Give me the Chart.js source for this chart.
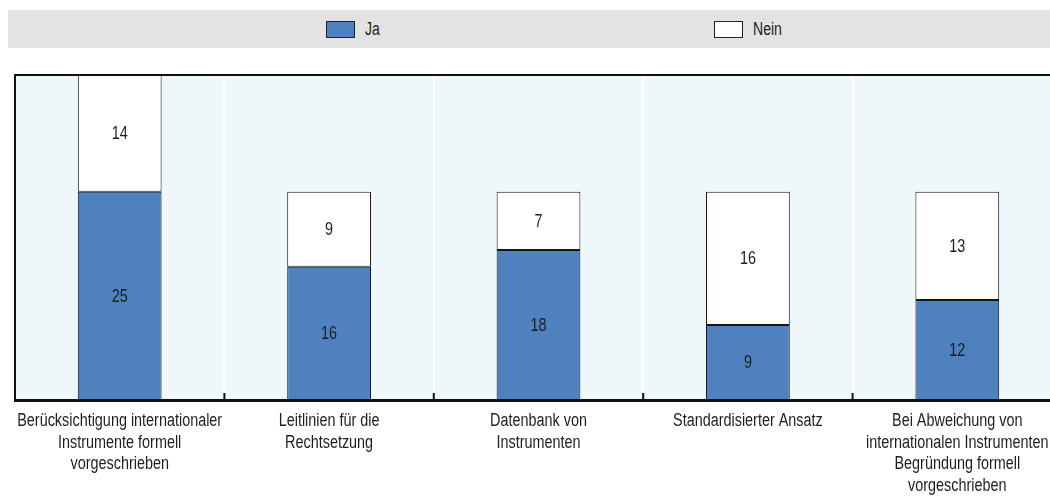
<!DOCTYPE html>
<html>
<head>
<meta charset="utf-8">
<script src="https://cdn.jsdelivr.net/npm/chart.js@4/dist/chart.umd.min.js"></script>
<style>
  html, body { margin: 0; padding: 0; background: #fff; overflow: hidden; }
  body { width: 1050px; height: 498px; position: relative; font-family: "Liberation Sans", Arial, sans-serif; }
  #legend { position: absolute; left: 8px; top: 10px; width: 1060px; height: 38px; background: #e3e3e3; }
  .item { position: absolute; top: 0; height: 38px; display: flex; align-items: center; font-size: 18px; color: #222; }
  .item span.t { display: inline-block; transform: scaleX(0.78); transform-origin: left center; }
  .swatch { width: 27px; height: 15px; border: 1px solid #222; margin-right: 10px; }
  #wrap { position: absolute; left: 0; top: 0; width: 1064px; height: 498px; }
</style>
</head>
<body>
<div id="legend">
  <div class="item" style="left:318px"><span class="swatch" style="background:#4e81bd"></span><span class="t">Ja</span></div>
  <div class="item" style="left:706px"><span class="swatch" style="background:#fff"></span><span class="t">Nein</span></div>
</div>
<div id="wrap"><canvas id="chart"></canvas></div>
<script>
// Categories (multi-line axis labels) and answer counts
const categories = [
  ["Berücksichtigung internationaler", "Instrumente formell", "vorgeschrieben"],
  ["Leitlinien für die", "Rechtsetzung"],
  ["Datenbank von", "Instrumenten"],
  ["Standardisierter Ansatz"],
  ["Bei Abweichung von", "internationalen Instrumenten", "Begründung formell", "vorgeschrieben"],
];
const jaValues = [25, 16, 18, 9, 12];
const neinValues = [14, 9, 7, 16, 13];

const FONT = '18px "Liberation Sans", Arial, sans-serif';
const SQUEEZE = 0.8; // narrow the text the way a condensed face would

function narrowText(ctx, text, x, y) {
  ctx.save();
  ctx.translate(x, y);
  ctx.scale(SQUEEZE, 1);
  ctx.fillText(text, 0, 0);
  ctx.restore();
}

// plot background, frame lines, tick marks and the category labels
const framePlugin = {
  id: "frame",
  beforeDraw(chart) {
    const { ctx, chartArea: a } = chart;
    ctx.save();
    ctx.fillStyle = "#eef7f9";
    ctx.fillRect(a.left, a.top, a.right - a.left, a.bottom - a.top);
    ctx.restore();
  },
  afterDatasetsDraw(chart) {
    const { ctx, chartArea: a, scales } = chart;
    const x = scales.x;
    ctx.save();
    ctx.strokeStyle = "#111";
    ctx.lineWidth = 2;
    ctx.beginPath();
    ctx.moveTo(a.left, a.top);
    ctx.lineTo(a.right, a.top);
    ctx.moveTo(a.left, a.top - 1);
    ctx.lineTo(a.left, a.bottom);
    for (let i = 1; i < categories.length; i++) {
      const bx = (x.getPixelForValue(i - 1) + x.getPixelForValue(i)) / 2;
      ctx.moveTo(bx, a.bottom);
      ctx.lineTo(bx, a.bottom - 7);
    }
    ctx.stroke();
    // heavier baseline
    ctx.lineWidth = 3;
    ctx.beginPath();
    ctx.moveTo(a.left - 1, a.bottom + 0.5);
    ctx.lineTo(a.right, a.bottom + 0.5);
    ctx.stroke();

    ctx.font = FONT;
    ctx.fillStyle = "#1e1e1e";
    ctx.textAlign = "center";
    ctx.textBaseline = "alphabetic";
    categories.forEach((lines, i) => {
      const cx = x.getPixelForValue(i);
      lines.forEach((line, k) => narrowText(ctx, line, cx, a.bottom + 26 + k * 21.5));
    });
    ctx.restore();
  },
};

// value written in the middle of each segment
const valueLabels = {
  id: "valueLabels",
  afterDatasetsDraw(chart) {
    const { ctx } = chart;
    ctx.save();
    ctx.font = FONT;
    ctx.fillStyle = "#1e1e1e";
    ctx.textAlign = "center";
    ctx.textBaseline = "middle";
    chart.data.datasets.forEach((ds, di) => {
      chart.getDatasetMeta(di).data.forEach((bar, i) => {
        const mid = (bar.y + bar.base) / 2;
        narrowText(ctx, String(ds.data[i]), bar.x, mid + 1);
      });
    });
    ctx.restore();
  },
};

new Chart(document.getElementById("chart"), {
  type: "bar",
  data: {
    labels: categories.map((l) => l.join(" ")),
    datasets: [
      {
        label: "Ja",
        data: jaValues,
        backgroundColor: "#4e81bd",
        borderColor: "#151515",
        borderWidth: 1,
        borderSkipped: false,
      },
      {
        label: "Nein",
        data: neinValues,
        backgroundColor: "#ffffff",
        borderColor: "#151515",
        borderWidth: 1,
        borderSkipped: false,
      },
    ],
  },
  options: {
    responsive: true,
    maintainAspectRatio: false,
    animation: false,
    datasets: { bar: { barPercentage: 0.4, categoryPercentage: 1 } },
    layout: { padding: { left: 15, right: 2, top: 75, bottom: 98 } },
    plugins: {
      legend: { display: false },
      tooltip: { enabled: false },
    },
    scales: {
      x: {
        stacked: true,
        offset: true,
        grid: { offset: true, color: "#ffffff", lineWidth: 2, drawTicks: false },
        border: { display: false },
        ticks: { display: false },
      },
      y: {
        stacked: true,
        display: false,
        min: 0,
        max: 39,
      },
    },
  },
  plugins: [framePlugin, valueLabels],
});
</script>
</body>
</html>
